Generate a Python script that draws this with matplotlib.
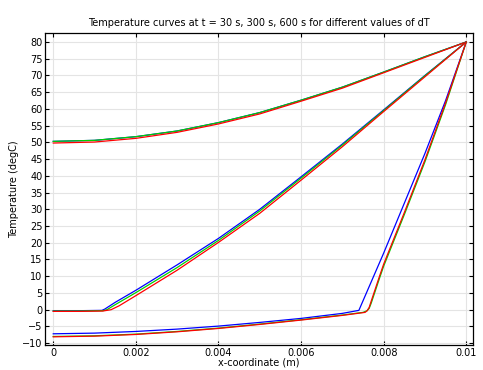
import matplotlib
matplotlib.use("Agg")
import matplotlib.pyplot as plt

# dT colours: blue, green, red
colors = ["#0000ff", "#00d000", "#ff0000"]

# t = 600 s
x_600 = [0, 0.001, 0.002, 0.003, 0.004, 0.005, 0.006, 0.007, 0.008, 0.009, 0.01]
T_600_blue = [50.3, 50.6, 51.7, 53.4, 55.9, 58.9, 62.6, 66.5, 71.0, 75.6, 80]
T_600_green = [50.3, 50.6, 51.7, 53.4, 55.9, 58.9, 62.6, 66.5, 71.0, 75.6, 80]
T_600_red = [49.8, 50.1, 51.2, 53.0, 55.5, 58.5, 62.3, 66.2, 70.8, 75.4, 80]

# t = 300 s
x_300_blue = [0, 0.0006, 0.00118, 0.00125, 0.0015, 0.002, 0.003, 0.004, 0.005, 0.006, 0.007, 0.008, 0.009, 0.01]
T_300_blue = [-0.3, -0.3, -0.2, 0.2, 2.2, 5.8, 13.4, 21.3, 30.0, 39.7, 49.5, 59.7, 70.0, 80]
x_300_green = [0, 0.0006, 0.0012, 0.0013, 0.0015, 0.002, 0.003, 0.004, 0.005, 0.006, 0.007, 0.008, 0.009, 0.01]
T_300_green = [-0.4, -0.4, -0.3, 0.0, 1.5, 5.1, 12.6, 20.7, 29.5, 39.3, 49.2, 59.5, 69.9, 80]
x_300_red = [0, 0.0006, 0.0012, 0.0014, 0.0016, 0.002, 0.003, 0.004, 0.005, 0.006, 0.007, 0.008, 0.009, 0.01]
T_300_red = [-0.5, -0.5, -0.4, 0.0, 1.2, 4.2, 11.8, 20.1, 28.8, 38.7, 48.7, 59.2, 69.6, 80]

# t = 30 s
x_30_blue = [0, 0.001, 0.002, 0.003, 0.004, 0.005, 0.006, 0.007, 0.0074, 0.008, 0.0085, 0.009, 0.0095, 0.01]
T_30_blue = [-7.2, -7.0, -6.5, -5.8, -4.9, -3.8, -2.6, -1.1, -0.2, 16.9, 31.8, 46.7, 62.5, 80]
x_30_green = [0, 0.001, 0.002, 0.003, 0.004, 0.005, 0.006, 0.007, 0.0075, 0.0076, 0.00765, 0.0077, 0.0078, 0.0079, 0.008, 0.0085, 0.009, 0.0095, 0.01]
T_30_green = [-8.0, -7.8, -7.3, -6.5, -5.5, -4.3, -3.0, -1.6, -0.8, -0.3, 0.4, 2.0, 5.7, 9.4, 13.0, 28.4, 44.2, 61.3, 80]
x_30_red = [0, 0.001, 0.002, 0.003, 0.004, 0.005, 0.006, 0.007, 0.00755, 0.0076, 0.00765, 0.0077, 0.0078, 0.0079, 0.008, 0.0085, 0.009, 0.0095, 0.01]
T_30_red = [-8.1, -7.9, -7.4, -6.6, -5.6, -4.4, -3.1, -1.7, -0.8, -0.3, 0.7, 2.6, 6.3, 10.0, 13.6, 29.0, 44.8, 61.8, 80]

x_ticks = [0, 0.002, 0.004, 0.006, 0.008, 0.01]
x_tick_labels = ["0", "0.002", "0.004", "0.006", "0.008", "0.01"]
y_ticks = list(range(-10, 81, 5))

curves = [
    (x_600, T_600_blue, x_600, T_600_green, x_600, T_600_red),
    (x_300_blue, T_300_blue, x_300_green, T_300_green, x_300_red, T_300_red),
    (x_30_blue, T_30_blue, x_30_green, T_30_green, x_30_red, T_30_red),
]

fig = plt.figure(figsize=(4.83, 3.70), dpi=100)
ax = fig.add_axes([0.094, 0.068, 0.885, 0.843])

for xb, yb, xg, yg, xr, yr in curves:
    ax.plot(xb, yb, color=colors[0], lw=0.9)
    ax.plot(xg, yg, color=colors[1], lw=0.9)
    ax.plot(xr, yr, color=colors[2], lw=0.9)

ax.set_xlim(-0.00019, 0.01016)
ax.set_ylim(-10.5, 82.7)
ax.set_xticks(x_ticks)
ax.set_xticklabels(x_tick_labels)
ax.set_yticks(y_ticks)
ax.tick_params(direction="in", top=True, right=True, length=3, width=0.8,
               labelsize=7, pad=2)
ax.grid(True, color="#e4e4e4", lw=0.8)
ax.set_axisbelow(True)
for s in ax.spines.values():
    s.set_linewidth(0.9)

ax.set_title("Temperature curves at t = 30 s, 300 s, 600 s for different values of dT",
             fontsize=7, pad=5)
ax.set_xlabel("x-coordinate (m)", fontsize=7, labelpad=0)
ax.set_ylabel("Temperature (degC)", fontsize=7, labelpad=2)

fig.savefig("out.png", dpi=100)
